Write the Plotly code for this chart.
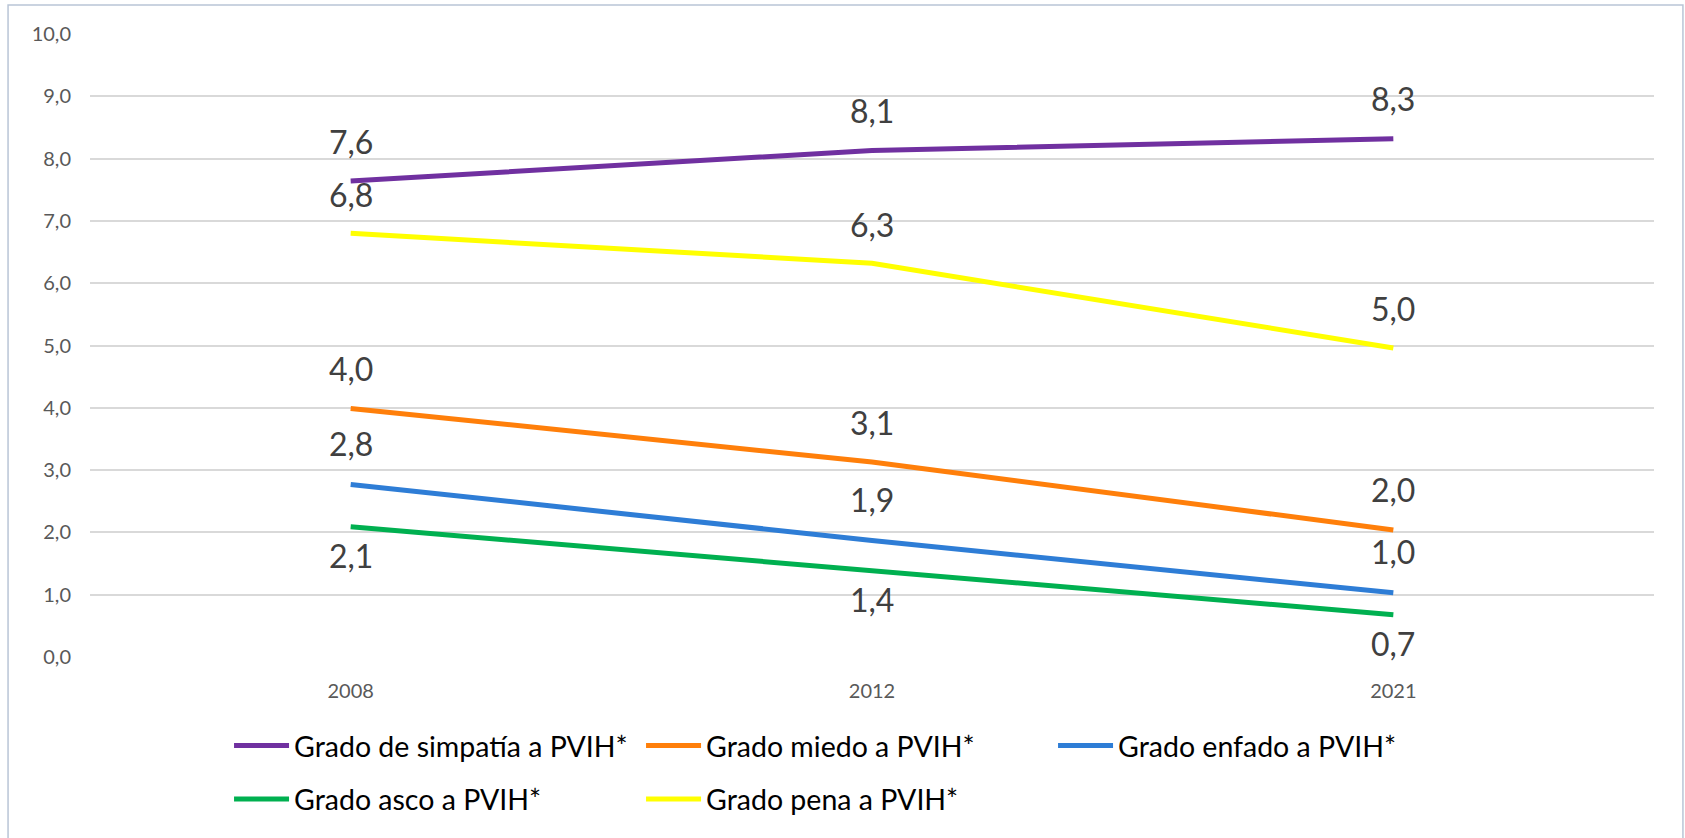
import plotly.graph_objects as go

years = ["2008", "2012", "2021"]

simpatia = [7.64, 8.13, 8.32]
miedo = [3.99, 3.13, 2.04]
enfado = [2.77, 1.87, 1.03]
asco = [2.09, 1.39, 0.68]
pena = [6.80, 6.32, 4.96]

y_ticks = [0, 1, 2, 3, 4, 5, 6, 7, 8, 9, 10]

series = [
    ("Grado de simpatía a PVIH*", simpatia, "#7030A0", 40, "legend"),
    ("Grado miedo a PVIH*", miedo, "#FF7F0A", 40, "legend"),
    ("Grado enfado a PVIH*", enfado, "#2E7DD6", 41, "legend"),
    ("Grado asco a PVIH*", asco, "#00B050", -29, "legend2"),
    ("Grado pena a PVIH*", pena, "#FFFF00", 39, "legend2"),
]

LEG_FONT = "Lato, 'Open Sans', sans-serif"

fig = go.Figure()
annotations = []
for name, vals, color, shift, leg in series:
    fig.add_trace(go.Scatter(
        x=years, y=vals, name=name, mode="lines",
        line=dict(color=color, width=5),
        legend=leg, hoverinfo="skip",
    ))
    for i, yv in enumerate(vals):
        annotations.append(dict(
            x=i, y=yv, xref="x", yref="y",
            text=f"{yv:.1f}".replace(".", ","),
            showarrow=False, yshift=shift,
            font=dict(family=LEG_FONT, size=32, color="#404040"),
        ))

fig.update_layout(
    width=1685, height=838,
    margin=dict(l=90, r=31, t=34, b=181),
    paper_bgcolor="white", plot_bgcolor="white",
    separators=",.",
    showlegend=True,
    annotations=annotations,
    xaxis=dict(
        type="category", categoryorder="array", categoryarray=years,
        range=[-0.5, 2.5],
        showgrid=False, zeroline=False, showline=False,
        tickfont=dict(family=LEG_FONT, size=20, color="#595959"),
        ticklabelstandoff=20,
    ),
    yaxis=dict(
        range=[0, 10], tickvals=y_ticks, tickformat=".1f",
        showgrid=True, gridcolor="#D9D9D9", gridwidth=1.5,
        zeroline=False, showline=False,
        tickfont=dict(family=LEG_FONT, size=20, color="#595959"),
        ticklabelstandoff=18,
    ),
    legend=dict(
        orientation="h", x=0.0889, xanchor="left", y=-0.1428, yanchor="middle",
        font=dict(family=LEG_FONT, size=28.5, color="#000000"),
        entrywidth=342, entrywidthmode="pixels", itemwidth=55,
        bgcolor="rgba(0,0,0,0)",
    ),
    legend2=dict(
        orientation="h", x=0.0889, xanchor="left", y=-0.2285, yanchor="middle",
        font=dict(family=LEG_FONT, size=28.5, color="#000000"),
        entrywidth=342, entrywidthmode="pixels", itemwidth=55,
        bgcolor="rgba(0,0,0,0)",
    ),
    shapes=[dict(
        type="rect", xref="paper", yref="paper",
        x0=-0.0524, x1=1.0185, y0=-0.31, y1=1.0465,
        line=dict(color="#B9C5D6", width=1.5), fillcolor="rgba(0,0,0,0)",
        layer="below",
    )],
)

fig.write_html("out.html", config={"displayModeBar": False},
               post_script="document.body.style.margin='0';")
